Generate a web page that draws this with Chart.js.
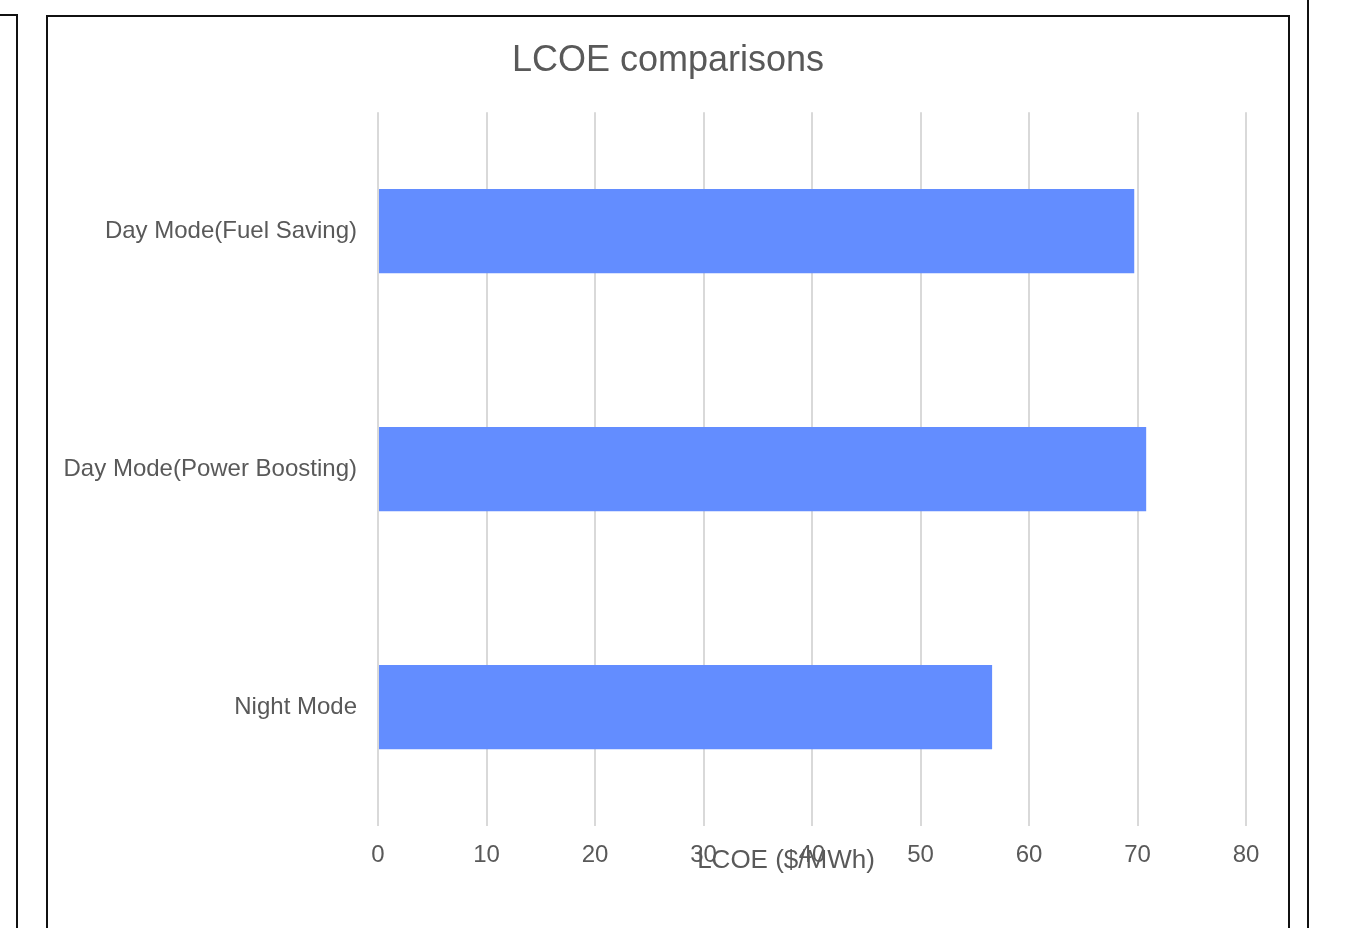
<!DOCTYPE html>
<html>
<head>
<meta charset="utf-8">
<script src="https://cdn.jsdelivr.net/npm/chart.js@4"></script>
<style>
  html, body { margin: 0; padding: 0; background: #fff; overflow: hidden; }
  body { width: 1346px; height: 928px; position: relative; }
  .box { position: absolute; border: 2px solid #111; background: #fff; }
  #leftBox { left: -100px; top: 14px; width: 114px; height: 1000px; }
  #mainBox { left: 46px; top: 15px; width: 1240px; height: 1000px; }
  #rightBox { left: 1307px; top: -10px; width: 200px; height: 1000px; }
  #wrap { position: absolute; left: 0; top: 0; width: 1240px; height: 911px; }
</style>
</head>
<body>
<div class="box" id="leftBox"></div>
<div class="box" id="rightBox"></div>
<div class="box" id="mainBox">
  <div id="wrap"><canvas id="grafico"></canvas></div>
</div>
<script>
// Datos
const categorias = ["Day Mode(Fuel Saving)", "Day Mode(Power Boosting)", "Night Mode"];
const lcoe = [69.7, 70.8, 56.6];
const ticksX = [0, 10, 20, 30, 40, 50, 60, 70, 80];
const titulo = "LCOE comparisons";
const tituloEje = "LCOE ($/MWh)";

const gris = "#595959";
const fuente = "'Liberation Sans', Arial, sans-serif";

// Título del eje X dibujado encima de las etiquetas, como en el original
const tituloEjePlugin = {
    id: "tituloEje",
    afterDraw(chart) {
        const { ctx, chartArea } = chart;
        ctx.save();
        ctx.font = "26px " + fuente;
        ctx.fillStyle = gris;
        ctx.textAlign = "center";
        ctx.textBaseline = "middle";
        ctx.fillText(tituloEje, (chartArea.left + chartArea.right) / 2 - 26, chartArea.bottom + 35);
        ctx.restore();
    }
};

new Chart(document.getElementById("grafico"), {
    type: "bar",
    data: {
        labels: categorias,
        datasets: [{
            label: tituloEje,
            data: lcoe,
            backgroundColor: "#638dff",
            borderWidth: 0,
            barPercentage: 0.354,
            categoryPercentage: 1
        }]
    },
    options: {
        indexAxis: "y",
        responsive: true,
        maintainAspectRatio: false,
        animation: false,
        devicePixelRatio: 1,
        layout: { padding: { left: 0, right: 0, top: 0, bottom: 43 } },
        plugins: {
            legend: { display: false },
            tooltip: { enabled: false },
            title: {
                display: true,
                text: titulo,
                color: gris,
                font: { family: fuente, size: 36, weight: "normal" },
                padding: { top: 22, bottom: 30 }
            }
        },
        scales: {
            x: {
                min: 0,
                max: 80,
                afterBuildTicks(scale) {
                    scale.ticks = ticksX.map(v => ({ value: v }));
                },
                afterFit(scale) { scale.paddingRight = 42; },
                grid: { color: "#d9d9d9", lineWidth: 2, drawTicks: false },
                border: { display: false },
                ticks: {
                    color: gris,
                    padding: 15,
                    maxRotation: 0,
                    font: { family: fuente, size: 24 }
                }
            },
            y: {
                grid: { display: false, drawTicks: false },
                border: { display: false },
                afterFit(scale) { scale.width = 330; },
                ticks: {
                    color: gris,
                    padding: 21,
                    font: { family: fuente, size: 24 }
                }
            }
        }
    },
    plugins: [tituloEjePlugin]
});
</script>
</body>
</html>
